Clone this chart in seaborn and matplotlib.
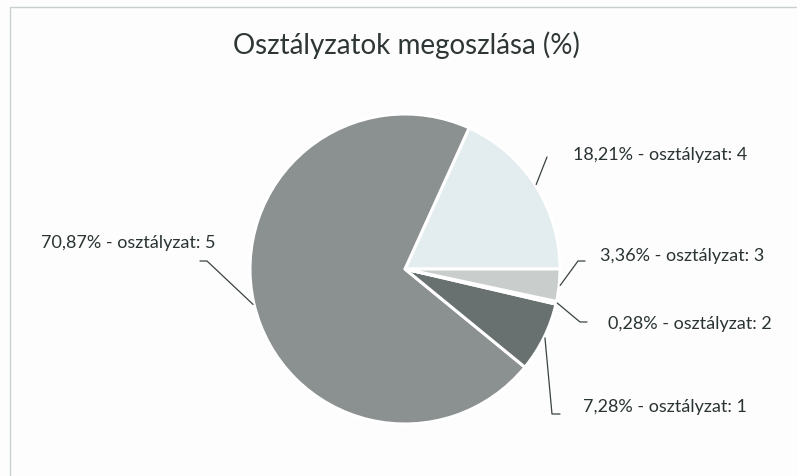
import numpy as np
import matplotlib
matplotlib.use("Agg")
import matplotlib.pyplot as plt
import seaborn as sns

# data (order as drawn, counter-clockwise from 3 o'clock)
grades = [4, 5, 1, 2, 3]
shares = [18.21, 70.87, 7.28, 0.28, 3.36]
colors = ["#e3ecee", "#8b9190", "#687170", "#f4f6f6", "#c9cecd"]
title = "Osztályzatok megoszlása (%)"

sns.set_theme(style="white")
plt.rcParams['font.family'] = ['Lato', 'DejaVu Sans']

W, H = 797, 477
fig = plt.figure(figsize=(W / 100, H / 100), dpi=100)
fig.patch.set_facecolor("#fdfdfd")
ax = fig.add_axes([0, 0, 1, 1])

cx, cy, R = 405, H - 270, 155
wedges, _ = ax.pie(shares, colors=colors, startangle=0, counterclock=True,
                   radius=R, center=(cx, cy), frame=True,
                   wedgeprops=dict(edgecolor="white", linewidth=2.2))
# thin darker rim around the pie
ax.add_patch(plt.Circle((cx, cy), R, fill=False, edgecolor="#6f7777", lw=0.8, zorder=0.5))
ax.set_xlim(0, W)
ax.set_ylim(0, H)
ax.set_aspect("equal")
ax.axis("off")

# chart frame
ax.plot([10, 10, W], [0, H - 8, H - 8], color="#c8d0d0", lw=1)

ax.text(406, H - 45, title, ha="center", va="center", fontsize=20, color="#2f3636")

# label layout: elbow, end of line, text position, alignment
layout = {
    4: dict(elbow=(547, 158), end=(547, 158), txt=(573, 155), ha="left"),
    5: dict(elbow=(207, 262), end=(200, 262), txt=(128, 243), ha="center"),
    1: dict(elbow=(552, 415), end=(560, 415), txt=(583, 407), ha="left"),
    2: dict(elbow=(580, 323), end=(587, 323), txt=(608, 324), ha="left"),
    3: dict(elbow=(578, 262), end=(585, 262), txt=(600, 256), ha="left"),
}

for w, g, s in zip(wedges, grades, shares):
    mid = np.deg2rad((w.theta1 + w.theta2) / 2)
    px, py = cx + (R + 1) * np.cos(mid), cy + (R + 1) * np.sin(mid)
    L = layout[g]
    ex, ey = L["elbow"]
    fx, fy = L["end"]
    ax.plot([px, ex, fx], [py, H - ey, H - fy], color="#3a4242", lw=0.9)
    label = f"{s:.2f}".replace(".", ",") + f"% - osztályzat: {g}"
    ax.text(L["txt"][0], H - L["txt"][1], label, ha=L["ha"], va="center",
            fontsize=13, color="#2a3333")

fig.savefig("out.png", dpi=100, facecolor=fig.get_facecolor())
